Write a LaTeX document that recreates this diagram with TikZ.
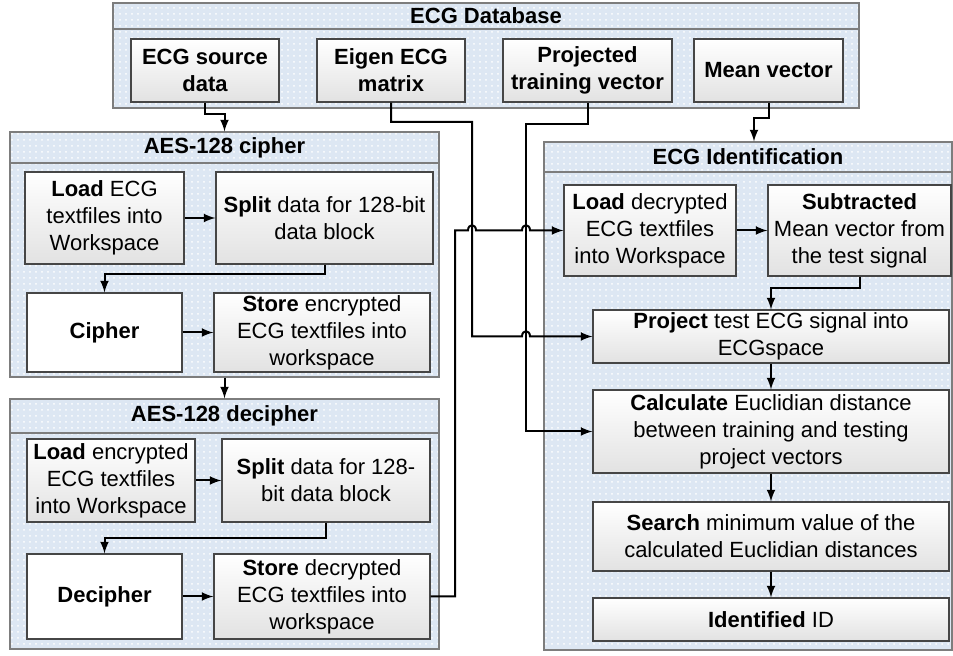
\documentclass[tikz,border=0pt]{standalone}
\usepackage{fontspec}
\setmainfont{Liberation Sans}
\usetikzlibrary{arrows,positioning,calc,patterns}
\tikzset{>=latex}
\definecolor{grpblue}{RGB}{221,231,243}
\definecolor{grpline}{RGB}{125,125,125}
\definecolor{boxline}{RGB}{70,70,70}
\definecolor{boxgray}{RGB}{226,226,226}

\begin{document}
\begin{tikzpicture}[x=0.5pt,y=-0.5pt,
        font=\fontsize{11}{13.5}\selectfont,
        grp/.style={draw=grpline,line width=0.6pt,preaction={fill=grpblue},
            pattern=dots,pattern color=white,inner sep=0pt},
        grphead/.style={grp,font=\fontsize{11}{13.5}\selectfont\bfseries},
        box/.style={draw=boxline,line width=0.6pt,top color=white,bottom color=boxgray,
            align=center,inner sep=1pt},
        plainbox/.style={draw=boxline,line width=0.6pt,fill=white,align=center,inner sep=1pt},
        link/.style={->,line width=1pt}]

        \useasboundingbox (0,0) rectangle (953,656);

        % groups
        \node [grphead,minimum width=373pt,minimum height=13pt] (dbhead) at (486,16) {ECG Database};
        \node [grp,minimum width=373pt,minimum height=39.5pt] (dbbody) at (486,68.5) {};
        \node [grphead,minimum width=214.5pt,minimum height=15.5pt] (chead) at (224.5,147.5) {AES-128 cipher};
        \node [grp,minimum width=214.5pt,minimum height=107pt] (cbody) at (224.5,270) {};
        \node [grphead,minimum width=214.5pt,minimum height=17pt] (dchead) at (224.5,416) {AES-128 decipher};
        \node [grp,minimum width=214.5pt,minimum height=108pt] (dcbody) at (224.5,541) {};
        \node [grphead,minimum width=204pt,minimum height=15pt] (ihead) at (748,157) {ECG Identification};
        \node [grp,minimum width=204pt,minimum height=239pt] (ibody) at (748,411) {};

        % nodes
        \node [box,font=\fontsize{11}{13.5}\selectfont\bfseries,minimum width=74pt,minimum height=31.5pt] (src) at (205,70.5) {ECG source\\data};
        \node [box,font=\fontsize{11}{13.5}\selectfont\bfseries,minimum width=74pt,minimum height=31.5pt] (eig) at (391,70.5) {Eigen ECG\\matrix};
        \node [box,font=\fontsize{11}{13.5}\selectfont\bfseries,minimum width=84.5pt,minimum height=31.5pt] (prj) at (587.5,70.5) {Projected\\training vector};
        \node [box,font=\fontsize{11}{13.5}\selectfont\bfseries,minimum width=74.5pt,minimum height=31.5pt] (mean) at (768.5,70.5) {Mean vector};

        \node [box,minimum width=79.5pt,minimum height=46pt] (cload) at (104.5,218) {\textbf{Load} ECG\\textfiles into\\Workspace};
        \node [box,minimum width=108.5pt,minimum height=46pt] (csplit) at (324.5,218) {\textbf{Split} data for 128-bit\\data block};
        \node [plainbox,minimum width=77.5pt,minimum height=39.5pt] (ciph) at (104.5,332.5) {\textbf{Cipher}};
        \node [box,minimum width=108pt,minimum height=39.5pt] (cstore) at (322,332.5) {\textbf{Store} encrypted\\ECG textfiles into\\workspace};

        \node [box,minimum width=84pt,minimum height=41.5pt] (dload) at (111,480.5) {\textbf{Load} encrypted\\ECG textfiles\\into Workspace};
        \node [box,minimum width=104pt,minimum height=41.5pt] (dsplit) at (326,480.5) {\textbf{Split} data for 128-\\bit data block};
        \node [plainbox,minimum width=77.5pt,minimum height=42.5pt] (deciph) at (104.5,596.5) {\textbf{Decipher}};
        \node [box,minimum width=108pt,minimum height=42.5pt] (dstore) at (322,596.5) {\textbf{Store} decrypted\\ECG textfiles into\\workspace};

        \node [box,minimum width=86pt,minimum height=45.5pt] (iload) at (650,230.5) {\textbf{Load} decrypted\\ECG textfiles\\into Workspace};
        \node [box,minimum width=91.5pt,minimum height=45.5pt] (isub) at (859.5,230.5) {\textbf{Subtracted}\\Mean vector from\\the test signal};
        \node [box,minimum width=178pt,minimum height=26.5pt] (iproj) at (771,336.5) {\textbf{Project} test ECG signal into\\ECGspace};
        \node [box,minimum width=178pt,minimum height=41.5pt] (icalc) at (771,431.5) {\textbf{Calculate} Euclidian distance\\between training and testing\\project vectors};
        \node [box,minimum width=178pt,minimum height=34.5pt] (isearch) at (771,536.5) {\textbf{Search} minimum value of the\\calculated Euclidian distances};
        \node [box,minimum width=178pt,minimum height=21.5pt] (iid) at (771,619.5) {\textbf{Identified} ID};

        % bends
        \coordinate (eigbend) at (472,122);
        \coordinate (prjbend) at (526,124);
        \coordinate (dlink) at (455,0);

        % arrows
        \draw [link] (src.south) -- ++(0,11) -| (chead.north);
        \draw [link] (mean.south) -- ++(0,15) -| ($(ihead.north)+(6,0)$);
        \draw [link] (cload) -- (csplit);
        \draw [link] (csplit.south) -- ++(0,9) -| (ciph.north);
        \draw [link] (ciph) -- (cstore);
        \draw [link] (cbody.south) -- (dchead.north);
        \draw [link] (dload) -- (dsplit);
        \draw [link] (dsplit.south) -- ++(0,15) -| (deciph.north);
        \draw [link] (deciph) -- (dstore);
        \draw [link] (iload) -- (isub);
        \draw [link] (isub.south) -- ++(0,11) -| (iproj.north);
        \draw [link] (iproj) -- (icalc);
        \draw [link] (icalc) -- (isearch);
        \draw [link] (isearch) -- (iid);

        \draw [link] (prj.south) |- (prjbend) |- (icalc.west);
        \draw [link] (eig.south) |- (eigbend) -- (eigbend |- iproj.west)
            -- ($(prjbend |- iproj.west)+(-4,0)$) .. controls +(0,-7) and +(0,-7) .. ($(prjbend |- iproj.west)+(4,0)$)
            -- (iproj.west);
        \draw [link] (dstore.east) -| (dlink |- iload.west)
            -- ($(eigbend |- iload.west)+(-4,0)$) .. controls +(0,-7) and +(0,-7) .. ($(eigbend |- iload.west)+(4,0)$)
            -- ($(prjbend |- iload.west)+(-4,0)$) .. controls +(0,-7) and +(0,-7) .. ($(prjbend |- iload.west)+(4,0)$)
            -- (iload.west);

    \end{tikzpicture}
\end{document}
